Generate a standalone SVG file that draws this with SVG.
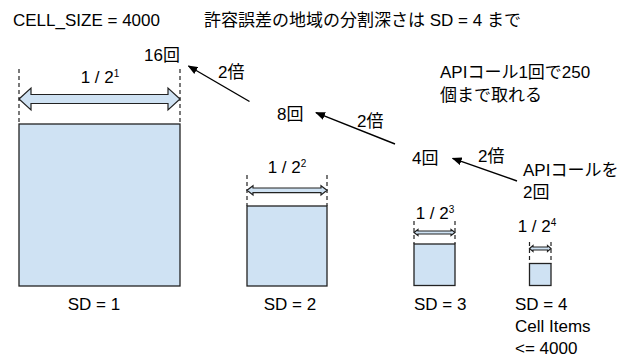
<svg xmlns="http://www.w3.org/2000/svg" width="632" height="359" viewBox="0 0 632 359">
<defs>
<style>
text{font-family:"Liberation Sans","Noto Sans CJK JP",Arial,sans-serif;font-size:17px;fill:#000}
.cell{fill:#cfe2f3;stroke:#222;stroke-width:1.3}
.dim{fill:#cfe2f3;stroke:#222;stroke-width:1.2;stroke-linejoin:miter}
.dash{stroke:#222;stroke-width:1.2;stroke-dasharray:4,3;fill:none}
.conn{stroke:#000;stroke-width:1.4;fill:none;marker-end:url(#ah)}
.sup{font-size:10px}
</style>
<marker id="ah" markerUnits="userSpaceOnUse" markerWidth="10" markerHeight="8" refX="9" refY="4" orient="auto">
<path d="M0,0 L10,4 L0,8 Z" fill="#000"/>
</marker>
</defs>
<rect width="632" height="359" fill="#fff"/>

<g id="title">
<text x="13" y="26">CELL_SIZE = 4000</text>
<text x="204" y="26">許容誤差の地域の分割深さは SD = 4 まで</text>
</g>

<g id="sd1">
<line class="dash" x1="19" y1="69" x2="19" y2="124"/>
<line class="dash" x1="180" y1="69" x2="180" y2="124"/>
<rect class="cell" x="19" y="124" width="161" height="162"/>
<path class="dim" d="M19,99 L31,88 L31,94.5 L168,94.5 L168,88 L180,99 L168,110 L168,103.5 L31,103.5 L31,110 Z"/>
<text x="100" y="83" text-anchor="middle">1 / 2<tspan class="sup" dy="-6">1</tspan></text>
<text x="94" y="310" text-anchor="middle">SD = 1</text>
</g>

<g id="sd2">
<line class="dash" x1="247" y1="175" x2="247" y2="206"/>
<line class="dash" x1="327" y1="175" x2="327" y2="206"/>
<rect class="cell" x="247" y="206" width="80" height="80"/>
<path class="dim" d="M247,190.3 L253,185.7 L253,188 L321,188 L321,185.7 L327,190.3 L321,195 L321,192.6 L253,192.6 L253,195 Z"/>
<text x="287" y="173" text-anchor="middle">1 / 2<tspan class="sup" dy="-6">2</tspan></text>
<text x="290" y="310" text-anchor="middle">SD = 2</text>
</g>

<g id="sd3">
<line class="dash" x1="414" y1="221" x2="414" y2="244"/>
<line class="dash" x1="455" y1="221" x2="455" y2="244"/>
<rect class="cell" x="414" y="244" width="41" height="41.5"/>
<path class="dim" d="M414,232.5 L418,229.5 L418,231 L451,231 L451,229.5 L455,232.5 L451,235.5 L451,234 L418,234 L418,235.5 Z"/>
<text x="435" y="219" text-anchor="middle">1 / 2<tspan class="sup" dy="-6">3</tspan></text>
<text x="414" y="310">SD = 3</text>
</g>

<g id="sd4">
<line class="dash" x1="529.5" y1="242" x2="529.5" y2="263.5"/>
<line class="dash" x1="551" y1="242" x2="551" y2="263.5"/>
<rect class="cell" x="529.5" y="263.5" width="21.5" height="22"/>
<path class="dim" d="M529.5,248.5 L533,245.5 L533,247 L547.5,247 L547.5,245.5 L551,248.5 L547.5,251.5 L547.5,250 L533,250 L533,251.5 Z"/>
<text x="537" y="231.5" text-anchor="middle">1 / 2<tspan class="sup" dy="-6">4</tspan></text>
<text x="515" y="310">SD = 4</text>
<text x="515" y="332">Cell Items</text>
<text x="515" y="354">&lt;= 4000</text>
</g>

<g id="counts">
<text x="144" y="61">16回</text>
<text x="277" y="120">8回</text>
<text x="412" y="164">4回</text>
</g>

<g id="notes">
<text x="440" y="78">APIコール1回で250</text>
<text x="440" y="101">個まで取れる</text>
<text x="523" y="176">APIコールを</text>
<text x="523" y="198">2回</text>
</g>

<g id="connectors">
<line class="conn" x1="249.5" y1="101.5" x2="188.5" y2="66"/>
<line class="conn" x1="395" y1="144" x2="316" y2="112.7"/>
<line class="conn" x1="517" y1="181" x2="452.7" y2="158.3"/>
<text x="218" y="78">2倍</text>
<text x="357" y="127">2倍</text>
<text x="478" y="162">2倍</text>
</g>
</svg>
